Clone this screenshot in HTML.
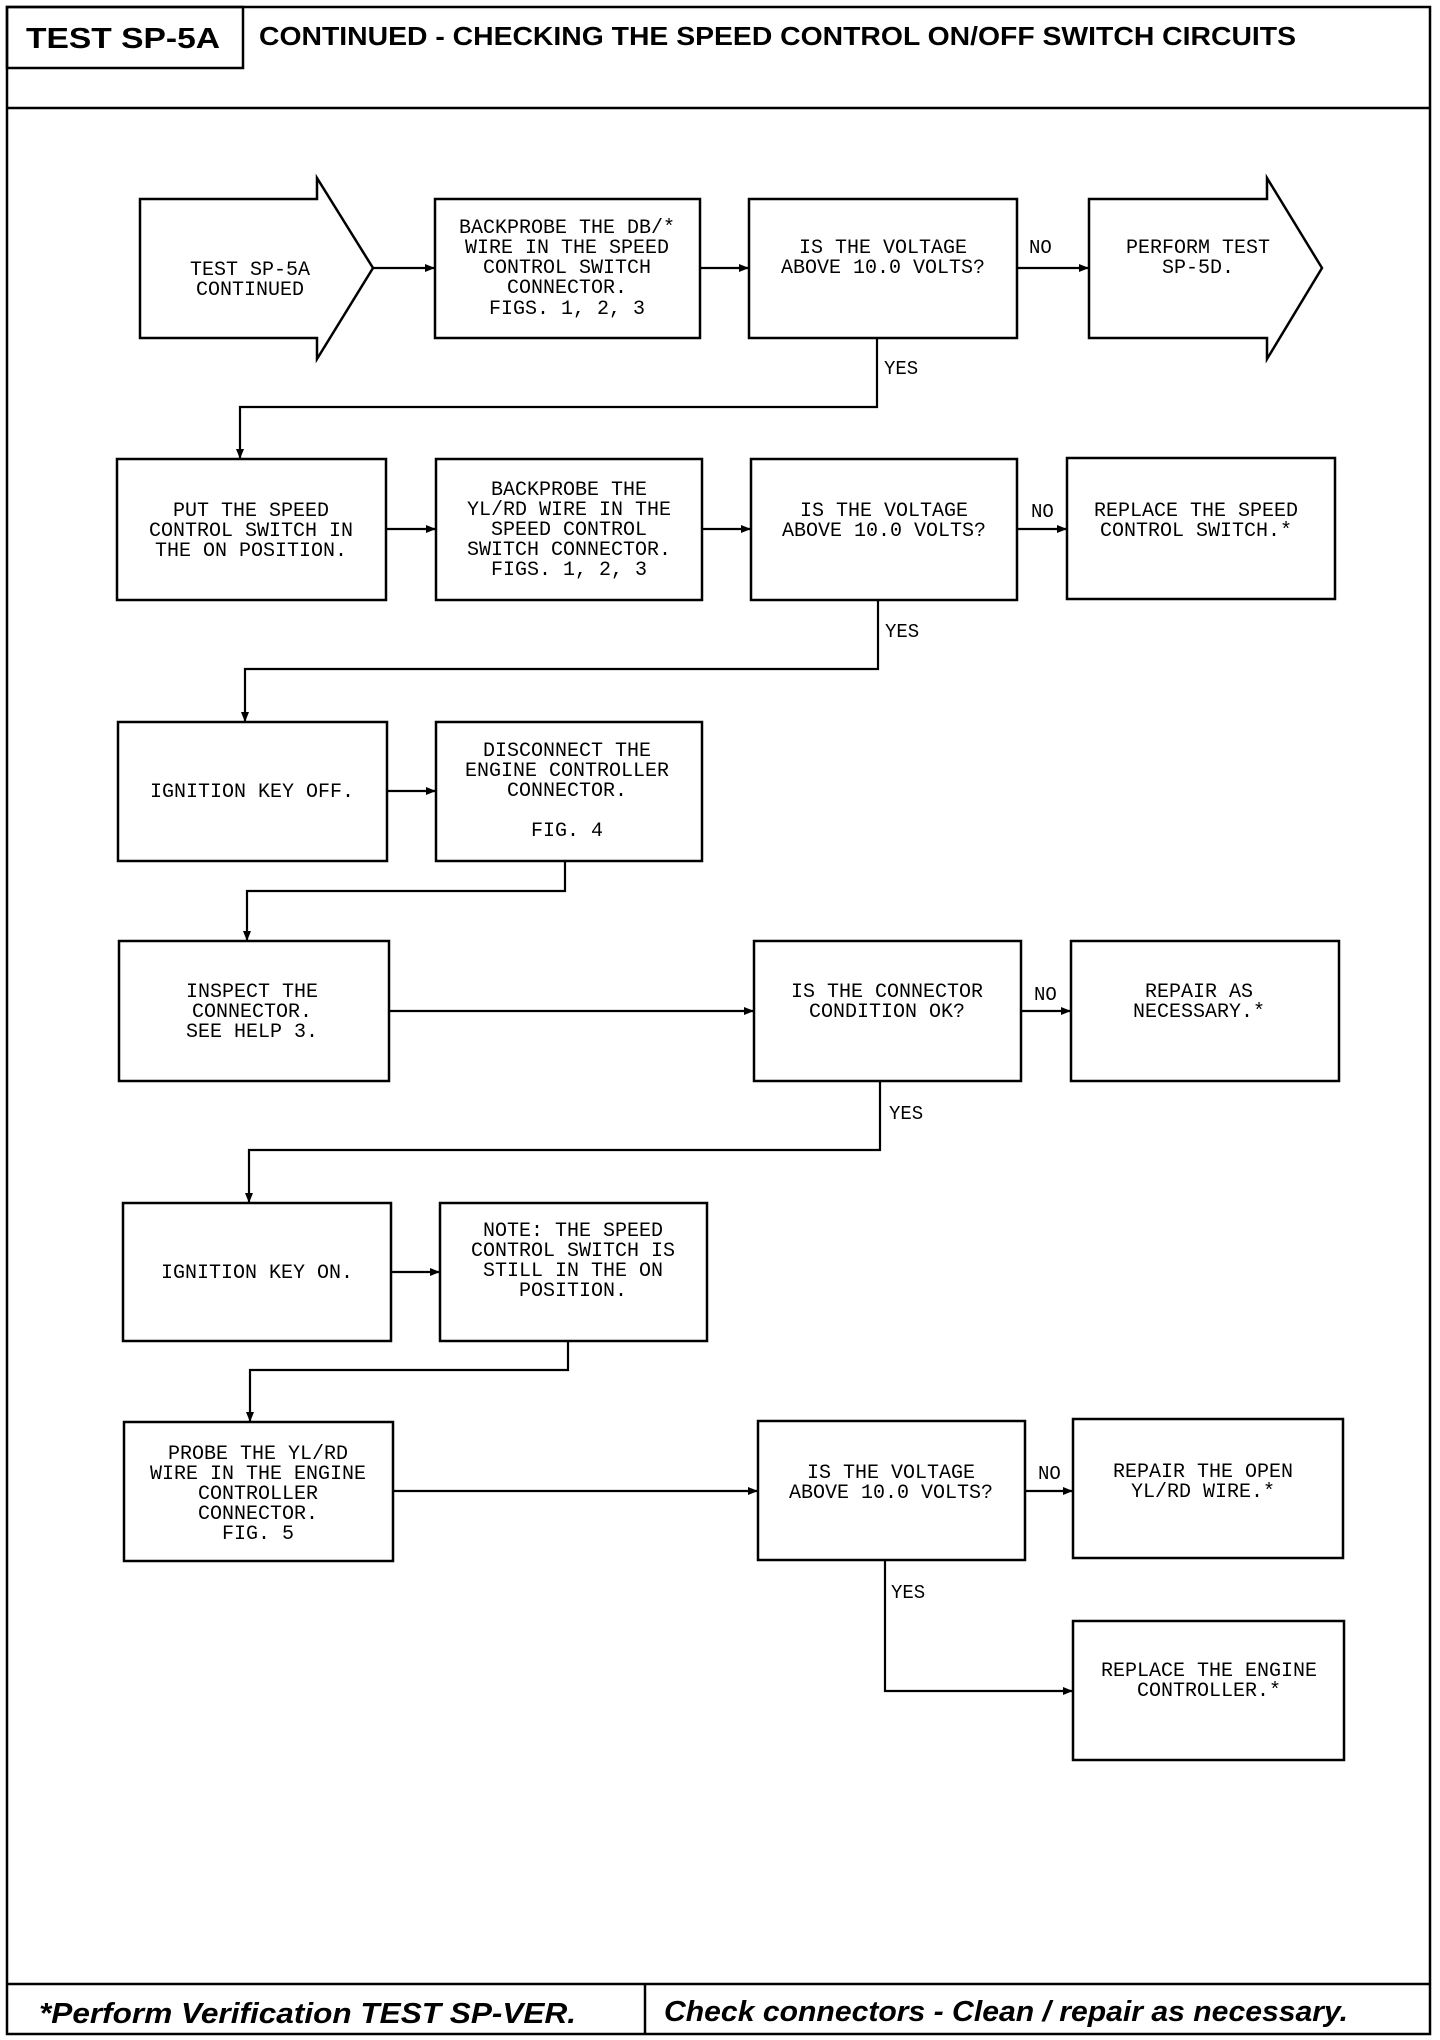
<!DOCTYPE html>
<html><head><meta charset="utf-8"><style>
html,body{margin:0;padding:0;background:#fff;}
svg{display:block;}
.t{font-family:"Liberation Mono",monospace;font-size:20px;fill:#000;text-anchor:middle;}
.l{font-family:"Liberation Mono",monospace;font-size:19px;fill:#000;}
.h{font-family:"Liberation Sans",sans-serif;font-weight:bold;font-size:27px;fill:#000;}
.f{font-family:"Liberation Sans",sans-serif;font-weight:bold;font-style:italic;font-size:29px;fill:#000;}
</style></head><body>
<svg width="1440" height="2040" viewBox="0 0 1440 2040" xmlns="http://www.w3.org/2000/svg">
<defs><marker id="a" markerWidth="10" markerHeight="8" refX="10" refY="4" orient="auto" markerUnits="userSpaceOnUse"><path d="M0,0 L10,4 L0,8 z" fill="#000"/></marker></defs>
<g fill="none" stroke="#000" stroke-width="2.5">
<rect x="7" y="7" width="1423" height="2027"/>
<rect x="7" y="7" width="236" height="61"/>
<line x1="7" y1="108" x2="1430" y2="108"/>
<line x1="7" y1="1984" x2="1430" y2="1984"/>
<line x1="645" y1="1984" x2="645" y2="2034"/>
<path d="M140,199 H317 V178 L373,268 L317,359 V338 H140 Z"/>
<rect x="435" y="199" width="265" height="139"/>
<rect x="749" y="199" width="268" height="139"/>
<path d="M1089,199 H1267 V178 L1322,268 L1267,359 V338 H1089 Z"/>
<rect x="117" y="459" width="269" height="141"/>
<rect x="436" y="459" width="266" height="141"/>
<rect x="751" y="459" width="266" height="141"/>
<rect x="1067" y="458" width="268" height="141"/>
<rect x="118" y="722" width="269" height="139"/>
<rect x="436" y="722" width="266" height="139"/>
<rect x="119" y="941" width="270" height="140"/>
<rect x="754" y="941" width="267" height="140"/>
<rect x="1071" y="941" width="268" height="140"/>
<rect x="123" y="1203" width="268" height="138"/>
<rect x="440" y="1203" width="267" height="138"/>
<rect x="124" y="1422" width="269" height="139"/>
<rect x="758" y="1421" width="267" height="139"/>
<rect x="1073" y="1419" width="270" height="139"/>
<rect x="1073" y="1621" width="271" height="139"/>
</g>
<g fill="none" stroke="#000" stroke-width="2.2" marker-end="url(#a)">
<line x1="373" y1="268" x2="435" y2="268"/>
<line x1="700" y1="268" x2="749" y2="268"/>
<line x1="1017" y1="268" x2="1089" y2="268"/>
<polyline points="877,338 877,407 240,407 240,459"/>
<line x1="386" y1="529" x2="436" y2="529"/>
<line x1="702" y1="529" x2="751" y2="529"/>
<line x1="1017" y1="529" x2="1067" y2="529"/>
<polyline points="878,600 878,669 245,669 245,722"/>
<line x1="387" y1="791" x2="436" y2="791"/>
<polyline points="565,861 565,891 247,891 247,941"/>
<line x1="389" y1="1011" x2="754" y2="1011"/>
<line x1="1021" y1="1011" x2="1071" y2="1011"/>
<polyline points="880,1081 880,1150 249,1150 249,1203"/>
<line x1="391" y1="1272" x2="440" y2="1272"/>
<polyline points="568,1341 568,1370 250,1370 250,1422"/>
<line x1="393" y1="1491" x2="758" y2="1491"/>
<line x1="1025" y1="1491" x2="1073" y2="1491"/>
<polyline points="885,1560 885,1691 1073,1691"/>
</g>
<text class="h" x="26" y="48" style="font-size:29px" textLength="194" lengthAdjust="spacingAndGlyphs">TEST SP-5A</text>
<text class="h" x="259" y="45" style="font-size:26px" textLength="1037" lengthAdjust="spacingAndGlyphs">CONTINUED - CHECKING THE SPEED CONTROL ON/OFF SWITCH CIRCUITS</text>
<text class="f" x="39" y="2023" textLength="537" lengthAdjust="spacingAndGlyphs">*Perform Verification TEST SP-VER.</text>
<text class="f" x="664" y="2021" textLength="684" lengthAdjust="spacingAndGlyphs">Check connectors - Clean / repair as necessary.</text>

<text class="l" x="1029" y="253">NO</text>
<text class="l" x="884" y="374">YES</text>
<text class="l" x="1031" y="517">NO</text>
<text class="l" x="885" y="637">YES</text>
<text class="l" x="1034" y="1000">NO</text>
<text class="l" x="889" y="1119">YES</text>
<text class="l" x="1038" y="1479">NO</text>
<text class="l" x="891" y="1598">YES</text>

<text class="t"><tspan x="250" y="275">TEST SP-5A</tspan><tspan x="250" y="295">CONTINUED</tspan></text>
<text class="t"><tspan x="567" y="233">BACKPROBE THE DB/*</tspan><tspan x="567" y="253">WIRE IN THE SPEED</tspan><tspan x="567" y="273">CONTROL SWITCH</tspan><tspan x="567" y="293">CONNECTOR.</tspan><tspan x="567" y="314">FIGS. 1, 2, 3</tspan></text>
<text class="t"><tspan x="883" y="253">IS THE VOLTAGE</tspan><tspan x="883" y="273">ABOVE 10.0 VOLTS?</tspan></text>
<text class="t"><tspan x="1198" y="253">PERFORM TEST</tspan><tspan x="1198" y="273">SP-5D.</tspan></text>

<text class="t"><tspan x="251" y="516">PUT THE SPEED</tspan><tspan x="251" y="536">CONTROL SWITCH IN</tspan><tspan x="251" y="556">THE ON POSITION.</tspan></text>
<text class="t"><tspan x="569" y="495">BACKPROBE THE</tspan><tspan x="569" y="515">YL/RD WIRE IN THE</tspan><tspan x="569" y="535">SPEED CONTROL</tspan><tspan x="569" y="555">SWITCH CONNECTOR.</tspan><tspan x="569" y="575">FIGS. 1, 2, 3</tspan></text>
<text class="t"><tspan x="884" y="516">IS THE VOLTAGE</tspan><tspan x="884" y="536">ABOVE 10.0 VOLTS?</tspan></text>
<text class="t"><tspan x="1196" y="516">REPLACE THE SPEED</tspan><tspan x="1196" y="536">CONTROL SWITCH.*</tspan></text>

<text class="t"><tspan x="252" y="797">IGNITION KEY OFF.</tspan></text>
<text class="t"><tspan x="567" y="756">DISCONNECT THE</tspan><tspan x="567" y="776">ENGINE CONTROLLER</tspan><tspan x="567" y="796">CONNECTOR.</tspan><tspan x="567" y="836">FIG. 4</tspan></text>

<text class="t"><tspan x="252" y="997">INSPECT THE</tspan><tspan x="252" y="1017">CONNECTOR.</tspan><tspan x="252" y="1037">SEE HELP 3.</tspan></text>
<text class="t"><tspan x="887" y="997">IS THE CONNECTOR</tspan><tspan x="887" y="1017">CONDITION OK?</tspan></text>
<text class="t"><tspan x="1199" y="997">REPAIR AS</tspan><tspan x="1199" y="1017">NECESSARY.*</tspan></text>

<text class="t"><tspan x="257" y="1278">IGNITION KEY ON.</tspan></text>
<text class="t"><tspan x="573" y="1236">NOTE:  THE SPEED</tspan><tspan x="573" y="1256">CONTROL SWITCH IS</tspan><tspan x="573" y="1276">STILL IN THE ON</tspan><tspan x="573" y="1296">POSITION.</tspan></text>

<text class="t"><tspan x="258" y="1459">PROBE THE YL/RD</tspan><tspan x="258" y="1479">WIRE IN THE ENGINE</tspan><tspan x="258" y="1499">CONTROLLER</tspan><tspan x="258" y="1519">CONNECTOR.</tspan><tspan x="258" y="1539">FIG. 5</tspan></text>
<text class="t"><tspan x="891" y="1478">IS THE VOLTAGE</tspan><tspan x="891" y="1498">ABOVE 10.0 VOLTS?</tspan></text>
<text class="t"><tspan x="1203" y="1477">REPAIR THE OPEN</tspan><tspan x="1203" y="1497">YL/RD WIRE.*</tspan></text>
<text class="t"><tspan x="1209" y="1676">REPLACE THE ENGINE</tspan><tspan x="1209" y="1696">CONTROLLER.*</tspan></text>
</svg>
</body></html>
